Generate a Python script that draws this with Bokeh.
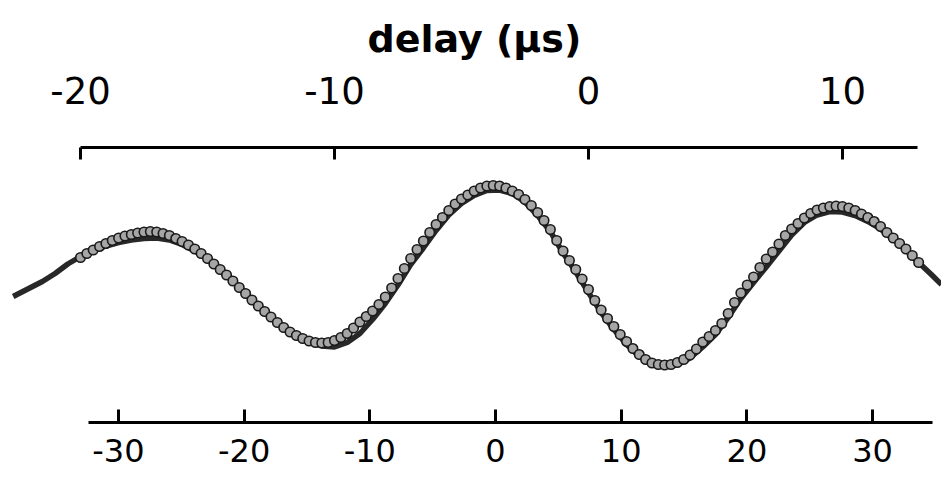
from bokeh.plotting import figure
from bokeh.models import Range1d, LinearAxis, FixedTicker, Title
from bokeh.embed import file_html
from bokeh.resources import INLINE

# ---- data ----
top_ticks = [-20, -10, 0, 10]
top_labels = ["-20", "-10", "0", "10"]
bottom_ticks = [-30, -20, -10, 0, 10, 20, 30]
bottom_labels = ["-30", "-20", "-10", "0", "10", "20", "30"]

# measured points (circles): delay in µs, signal in arbitrary units
meas_delay = [
    -20.0, -19.75, -19.5, -19.25, -19.0, -18.75, -18.5, -18.25, -18.0, -17.75,
    -17.5, -17.25, -17.0, -16.75, -16.5, -16.25, -16.0, -15.75, -15.5, -15.25,
    -15.0, -14.75, -14.5, -14.25, -14.0, -13.75, -13.5, -13.25, -13.0, -12.75,
    -12.5, -12.25, -12.0, -11.75, -11.5, -11.25, -11.0, -10.75, -10.5, -10.25,
    -10.0, -9.75, -9.5, -9.25, -9.0, -8.75, -8.5, -8.25, -8.0, -7.75,
    -7.5, -7.25, -7.0, -6.75, -6.5, -6.25, -6.0, -5.75, -5.5, -5.25,
    -5.0, -4.75, -4.5, -4.25, -4.0, -3.75, -3.5, -3.25, -3.0, -2.75,
    -2.5, -2.25, -2.0, -1.75, -1.5, -1.25, -1.0, -0.75, -0.5, -0.25,
    0.0, 0.25, 0.5, 0.75, 1.0, 1.25, 1.5, 1.75, 2.0, 2.25,
    2.5, 2.75, 3.0, 3.25, 3.5, 3.75, 4.0, 4.25, 4.5, 4.75,
    5.0, 5.25, 5.5, 5.75, 6.0, 6.25, 6.5, 6.75, 7.0, 7.25,
    7.5, 7.75, 8.0, 8.25, 8.5, 8.75, 9.0, 9.25, 9.5, 9.75,
    10.0, 10.25, 10.5, 10.75, 11.0, 11.25, 11.5, 11.75, 12.0, 12.25,
    12.5, 12.75, 13.0,
]
meas_signal = [
    0.28, 0.32, 0.355, 0.39, 0.42, 0.45, 0.475, 0.495, 0.51, 0.525,
    0.535, 0.54, 0.535, 0.52, 0.50, 0.47, 0.44, 0.405, 0.365, 0.32,
    0.27, 0.215, 0.16, 0.105, 0.045, -0.02, -0.08, -0.145, -0.205, -0.26,
    -0.315, -0.37, -0.42, -0.465, -0.50, -0.53, -0.555, -0.57, -0.575, -0.57,
    -0.55, -0.52, -0.48, -0.425, -0.365, -0.31, -0.255, -0.19, -0.115, -0.025,
    0.07, 0.17, 0.27, 0.36, 0.445, 0.53, 0.61, 0.68, 0.75, 0.815,
    0.865, 0.905, 0.945, 0.975, 0.995, 1.0, 0.995, 0.975, 0.945, 0.91,
    0.86, 0.80, 0.73, 0.65, 0.56, 0.45, 0.345, 0.25, 0.16, 0.065,
    -0.04, -0.15, -0.245, -0.33, -0.41, -0.49, -0.56, -0.63, -0.69, -0.74,
    -0.775, -0.79, -0.795, -0.79, -0.77, -0.74, -0.695, -0.635, -0.565, -0.51,
    -0.45, -0.38, -0.28, -0.17, -0.075, 0.005, 0.085, 0.18, 0.265, 0.335,
    0.415, 0.50, 0.565, 0.62, 0.675, 0.72, 0.755, 0.775, 0.79, 0.795,
    0.79, 0.775, 0.75, 0.715, 0.68, 0.64, 0.59, 0.53, 0.475, 0.42,
    0.365, 0.30, 0.23,
]

# model curve (thick dark line)
model_delay = [
    -22.65, -22.5, -22.0, -21.5, -21.0, -20.5, -20.0, -19.5, -19.0, -18.5, -18.0,
    -17.5, -17.0, -16.5, -16.0, -15.5, -15.0, -14.5, -14.0, -13.5, -13.0,
    -12.5, -12.0, -11.5, -11.0, -10.5, -10.0, -9.5, -9.0, -8.5, -8.0,
    -7.5, -7.0, -6.5, -6.0, -5.5, -5.0, -4.5, -4.0, -3.5, -3.0,
    -2.5, -2.0, -1.5, -1.0, -0.5, 0.0, 0.5, 1.0, 1.5, 2.0,
    2.5, 3.0, 3.5, 4.0, 4.5, 5.0, 5.5, 6.0, 6.5, 7.0,
    7.5, 8.0, 8.5, 9.0, 9.5, 10.0, 10.5, 11.0, 11.5, 12.0,
    12.5, 13.0, 13.5, 13.9,
]
model_signal = [
    -0.11, -0.09, -0.025, 0.04, 0.12, 0.215, 0.29, 0.35, 0.395, 0.43, 0.455,
    0.47, 0.475, 0.455, 0.41, 0.345, 0.265, 0.16, 0.045, -0.08, -0.20,
    -0.31, -0.415, -0.50, -0.565, -0.605, -0.615, -0.57, -0.48, -0.34, -0.18,
    0.005, 0.21, 0.375, 0.55, 0.705, 0.82, 0.90, 0.95, 0.955, 0.92,
    0.835, 0.70, 0.54, 0.325, 0.135, -0.07, -0.27, -0.44, -0.59, -0.71,
    -0.785, -0.81, -0.79, -0.725, -0.615, -0.49, -0.32, -0.13, 0.03, 0.185,
    0.345, 0.505, 0.63, 0.705, 0.74, 0.735, 0.70, 0.64, 0.565, 0.465,
    0.355, 0.23, 0.11, 0.01,
]

FONT = "DejaVu Sans"

p = figure(
    width=941, height=479,
    x_range=Range1d(-23.15, 13.90),
    y_range=Range1d(-1.37, 1.38),
    x_axis_location="above", y_axis_location=None,
    output_backend="svg", toolbar_location=None,
    min_border_left=0, min_border_right=0,
    min_border_top=147, min_border_bottom=57,
)
p.outline_line_color = None
p.grid.visible = False
p.background_fill_color = "white"
p.border_fill_color = "white"

p.title = Title(text="delay (µs)", align="left", offset=367, standoff=25,
                text_font=FONT, text_font_style="bold", text_font_size="38px",
                text_color="black")

top = p.xaxis[0]
top.ticker = FixedTicker(ticks=top_ticks)
top.major_label_overrides = dict(zip(top_ticks, top_labels))
top.bounds = (-20, 12.95)
top.axis_line_width = 3
top.axis_line_color = "black"
top.major_tick_line_width = 3
top.major_tick_in = 12
top.major_tick_out = 0
top.minor_tick_line_color = None
top.major_label_text_font = FONT
top.major_label_text_font_size = "37px"
top.major_label_text_color = "black"
top.major_label_standoff = 44

p.extra_x_ranges = {"lower": Range1d(-39.38, 35.48)}
bottom = LinearAxis(x_range_name="lower", ticker=FixedTicker(ticks=bottom_ticks))
bottom.major_label_overrides = dict(zip(bottom_ticks, bottom_labels))
bottom.bounds = (-32.4, 34.8)
bottom.axis_line_width = 3
bottom.axis_line_color = "black"
bottom.major_tick_line_width = 3
bottom.major_tick_in = 13
bottom.major_tick_out = 0
bottom.minor_tick_line_color = None
bottom.major_label_text_font = FONT
bottom.major_label_text_font_size = "32px"
bottom.major_label_text_color = "black"
bottom.major_label_standoff = 16
p.add_layout(bottom, "below")

p.line(model_delay, model_signal, line_color="#1c1c1c", line_width=5.5, line_alpha=0.95)
p.scatter(meas_delay, meas_signal, marker="circle", size=9.5,
          fill_color="#a6a6a6", line_color="#1a1a1a", line_width=1.6)

open("out.html", "w").write(file_html(p, INLINE))
